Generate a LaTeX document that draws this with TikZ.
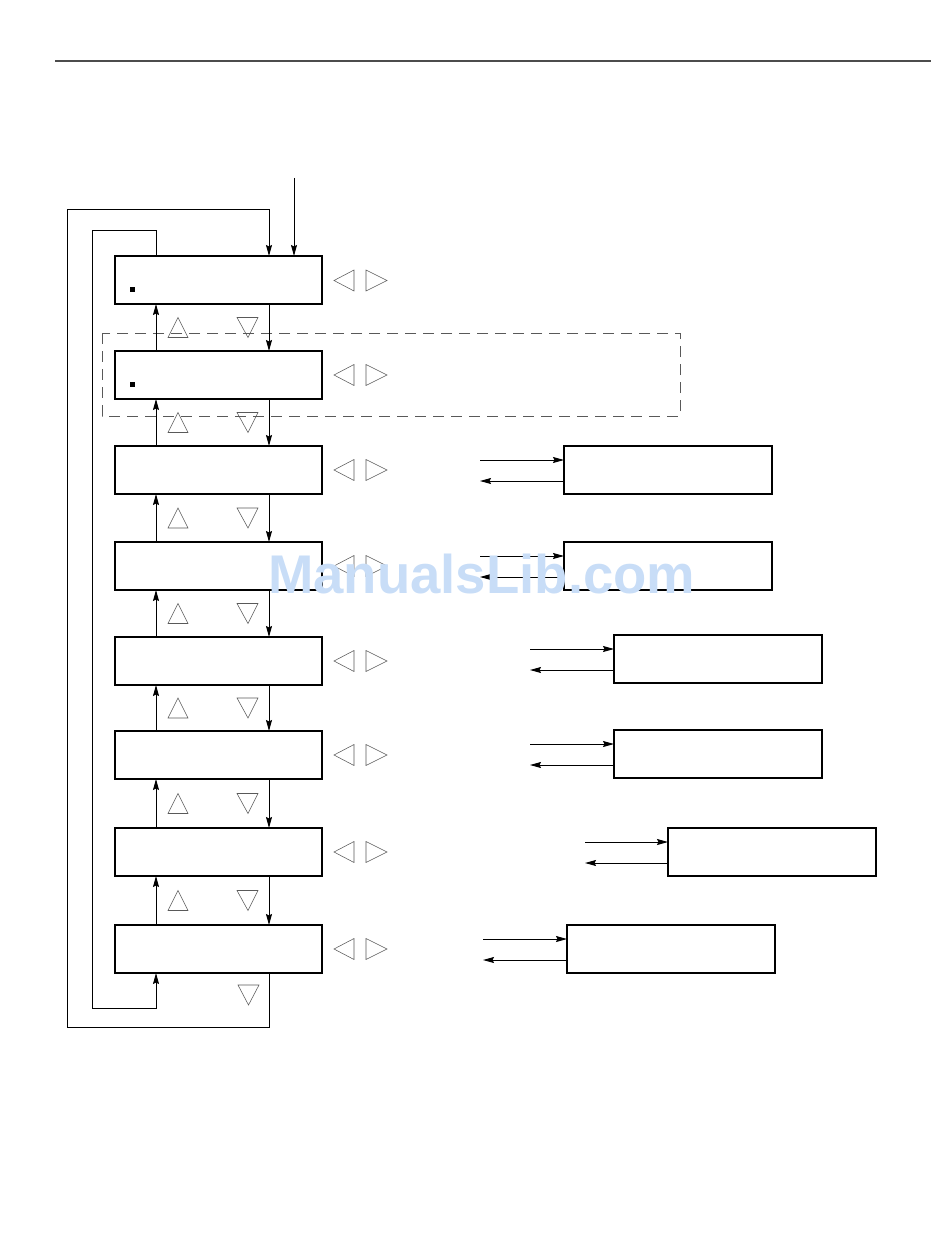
\documentclass[tikz,border=0pt]{standalone}
\usepackage{fontspec}
\newfontfamily\wmfont{Liberation Sans}
\usetikzlibrary{arrows.meta}
\definecolor{wmblue}{RGB}{200,221,247}
\begin{document}
\begin{tikzpicture}[x=1pt,y=-1pt,
 mbox/.style={draw,line width=1.5pt,minimum width=207pt,minimum height=48pt,inner sep=0pt,outer sep=0pt,anchor=north west},
 rbox/.style={draw,line width=1.5pt,minimum width=208pt,minimum height=48pt,inner sep=0pt,outer sep=0pt,anchor=north west},
 conn/.style={line width=0.9pt},
 arr/.style={conn,-{Stealth[length=11pt,width=6pt,inset=1.5pt]}},
 tri/.style={draw=black!65,line width=0.55pt,line join=miter},
 dashbox/.style={draw=black!65,line width=0.8pt,dash pattern=on 11pt off 7pt},
 rule/.style={draw=black!70,line width=1.3pt}]
\useasboundingbox (0,0) rectangle (950,1260);
% top rule
\coordinate (ruleL) at (55,61);
\coordinate (ruleR) at (931,61);
\draw[rule] (ruleL) -- (ruleR);
% dashed group
\draw[dashbox] (102,333) rectangle (680,416);
% main boxes
\foreach \i/\y in {1/256,2/351,3/446,4/542,5/637,6/731,7/828,8/925}
  \node[mbox] (m\i) at (115,\y) {};
% right boxes
\foreach \i/\x/\y in {3/564/446,4/564/542,5/614/635,6/614/730,7/668/828,8/567/925}
  \node[rbox] (r\i) at (\x,\y) {};
% small markers
\fill (130,287) rectangle (135,292);
\fill (130,382) rectangle (135,387);
% columns
\coordinate (xu) at (156,0);
\coordinate (xd) at (269,0);
% entry arrow
\coordinate (in) at (294,178);
\draw[arr] (in) -- (m1.north -| in);
% up / down arrows between boxes
\foreach \a/\b in {1/2,2/3,3/4,4/5,5/6,6/7,7/8}{
  \draw[arr] (m\b.north -| xu) -- (m\a.south -| xu);
  \draw[arr] (m\a.south -| xd) -- (m\b.north -| xd);
}
% outer loop
\coordinate (o1) at (269,1027);
\coordinate (o2) at (67,1027);
\coordinate (o3) at (67,209);
\coordinate (o4) at (269,209);
\draw[arr] (m8.south -| xd) -- (o1) -- (o2) -- (o3) -- (o4) -- (m1.north -| xd);
% inner loop
\coordinate (i1) at (156,230);
\coordinate (i2) at (92,230);
\coordinate (i3) at (92,1008);
\coordinate (i4) at (156,1008);
\draw[arr] (m1.north -| xu) -- (i1) -- (i2) -- (i3) -- (i4) -- (m8.south -| xu);
% side arrows
\foreach \i/\x/\ya/\yb in {3/480/460/481,4/480/556/577,5/530/649/670,6/530/744/765,7/585/842/863,8/483/939/960}{
  \coordinate (a\i) at (\x,\ya);
  \coordinate (b\i) at (\x,\yb);
  \draw[arr] (a\i) -- (r\i.west |- a\i);
  \draw[arr] (r\i.west |- b\i) -- (b\i);
}
% up/down triangles
\foreach \c in {327.5,422.5,518,613.5,708,803.5,900.5}{
  \draw[tri] (168,\c+10) -- (178,\c-10) -- (188,\c+10) -- cycle;
  \draw[tri] (237,\c-10) -- (248,\c+10) -- (258,\c-10) -- cycle;
}
\draw[tri] (238,985) -- (248.5,1005) -- (259,985) -- cycle;
% left/right triangles
\foreach \c in {280.5,375,470,566,661,755,852,949}{
  \draw[tri] (354,\c-10.5) -- (334,\c) -- (354,\c+10.5) -- cycle;
  \draw[tri] (366,\c-10.5) -- (387,\c) -- (366,\c+10.5) -- cycle;
}
% watermark
\node[anchor=base west,inner sep=0pt,text=wmblue,font=\wmfont\bfseries\fontsize{54.5}{54.5}\selectfont] (wm) at (268,593) {ManualsLib.com};
\end{tikzpicture}
\end{document}
